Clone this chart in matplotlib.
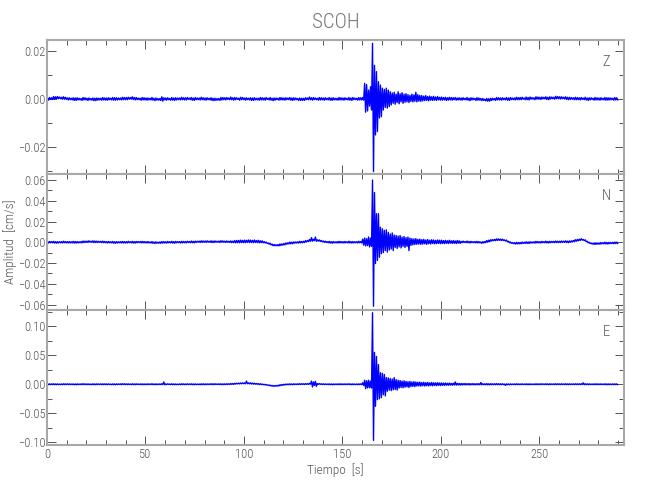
import matplotlib
matplotlib.use("Agg")
import matplotlib.pyplot as plt
import numpy as np
from matplotlib.ticker import MultipleLocator, FuncFormatter

# envelope of each trace per 1 s bin (0..289 s), units of 1e-4 cm/s
# hi = max in the bin, lo = min in the bin
z_hi = [4, 6, 5, 10, 9, 10, 8, 7, 9, 7,
        5, 5, 3, 5, 4, 5, 3, 2, 6, 5,
        3, 4, 2, 4, 3, 4, 3, 3, 6, 4,
        4, 5, 3, 6, 5, 5, 4, 4, 7, 6,
        6, 7, 6, 9, 6, 6, 4, 3, 6, 5,
        4, 4, 3, 6, 3, 4, 2, 2, 9, 5,
        4, 5, 2, 6, 4, 5, 4, 4, 7, 5,
        5, 6, 4, 6, 4, 6, 4, 4, 7, 5,
        4, 5, 3, 5, 3, 3, 2, 2, 6, 6,
        5, 6, 4, 8, 5, 6, 5, 3, 7, 6,
        4, 5, 3, 5, 4, 5, 3, 3, 6, 5,
        4, 6, 3, 6, 3, 4, 4, 3, 6, 5,
        4, 5, 4, 6, 4, 5, 4, 2, 4, 3,
        3, 5, 4, 8, 5, 6, 4, 3, 6, 5,
        4, 5, 3, 6, 4, 5, 3, 3, 6, 5,
        4, 5, 3, 6, 4, 6, 4, 3, 6, 5,
        6, 65, 60, 37, 51, 232, 140, 114, 72, 58,
        45, 40, 45, 37, 30, 25, 28, 20, 30, 22,
        26, 20, 22, 18, 15, 20, 17, 28, 18, 15,
        14, 12, 14, 10, 12, 9, 11, 8, 10, 7,
        8, 6, 7, 5, 7, 6, 5, 6, 4, 5,
        4, 5, 3, 6, 3, 5, 4, 2, 5, 4,
        2, 2, -1, 2, 1, 3, 3, 2, 6, 5,
        4, 5, 3, 6, 4, 6, 4, 4, 7, 6,
        6, 7, 4, 8, 6, 8, 6, 5, 9, 8,
        7, 8, 7, 9, 7, 9, 8, 7, 11, 10,
        9, 9, 7, 9, 7, 7, 6, 5, 7, 6,
        5, 6, 4, 7, 4, 5, 5, 3, 6, 5,
        4, 5, 3, 6, 5, 5, 4, 3, 6, 5]
z_lo = [-5, -2, -2, -1, -1, 1, 1, -1, -1, -2,
        -4, -3, -4, -6, -6, -4, -4, -6, -4, -4,
        -6, -4, -5, -7, -7, -5, -4, -5, -4, -5,
        -5, -3, -4, -5, -5, -4, -3, -4, -3, -3,
        -3, -1, -1, -2, -4, -3, -3, -5, -4, -4,
        -5, -4, -4, -5, -7, -5, -5, -6, -9, -4,
        -5, -3, -5, -5, -6, -4, -3, -4, -3, -4,
        -4, -2, -3, -5, -6, -3, -3, -4, -3, -4,
        -5, -3, -4, -6, -7, -6, -5, -6, -4, -3,
        -4, -2, -3, -3, -5, -3, -2, -5, -3, -3,
        -5, -3, -4, -6, -6, -4, -4, -5, -4, -4,
        -5, -2, -4, -5, -7, -5, -3, -5, -4, -4,
        -5, -3, -3, -5, -6, -4, -3, -6, -6, -6,
        -6, -3, -3, -3, -5, -3, -3, -5, -4, -4,
        -5, -3, -4, -5, -6, -4, -4, -5, -4, -4,
        -5, -3, -4, -5, -6, -3, -3, -5, -4, -4,
        -5, -55, -50, -30, -46, -303, -150, -136, -79, -74,
        -46, -35, -38, -32, -25, -18, -22, -15, -20, -12,
        -18, -14, -12, -15, -10, -12, -10, -12, -9, -10,
        -8, -7, -6, -8, -5, -6, -5, -6, -4, -5,
        -5, -4, -6, -5, -4, -5, -3, -5, -4, -4,
        -5, -3, -4, -5, -7, -4, -3, -6, -5, -5,
        -7, -6, -8, -9, -9, -6, -4, -6, -4, -4,
        -5, -3, -4, -5, -6, -3, -3, -4, -3, -3,
        -3, -1, -3, -3, -4, -1, -1, -3, -1, -1,
        -2, 0, 0, -2, -3, 0, 1, -1, 1, 1,
        0, 1, 0, -2, -3, -2, -1, -3, -3, -3,
        -4, -2, -3, -4, -6, -4, -2, -5, -4, -4,
        -5, -3, -4, -5, -5, -4, -3, -5, -4, -4]

n_hi = [6, 8, 6, 9, 6, 6, 5, 6, 10, 7,
        6, 7, 5, 9, 7, 7, 5, 7, 12, 11,
        11, 14, 10, 14, 12, 11, 9, 9, 11, 8,
        6, 8, 5, 8, 5, 6, 5, 6, 8, 6,
        6, 9, 5, 9, 7, 8, 7, 7, 9, 7,
        6, 7, 3, 7, 3, 4, 1, 3, 7, 6,
        5, 8, 5, 9, 6, 8, 6, 6, 9, 8,
        7, 10, 7, 12, 9, 11, 10, 11, 14, 13,
        12, 14, 10, 14, 12, 13, 10, 11, 15, 13,
        11, 13, 9, 13, 11, 16, 17, 18, 20, 18,
        20, 19, 22, 21, 18, 22, 17, 19, 15, 14,
        6, 2, -7, -9, -18, -21, -24, -22, -16, -15,
        -12, -6, -5, 2, 1, 4, 3, 5, 9, 8,
        10, 16, 17, 27, 45, 29, 50, 24, 23, 17,
        12, 11, 6, 9, 6, 7, 4, 6, 9, 7,
        6, 8, 5, 10, 7, 7, 5, 6, 10, 7,
        30, 40, 35, 51, 40, 600, 480, 275, 275, 145,
        130, 115, 120, 95, 80, 90, 70, 65, 60, 65,
        50, 55, 45, 50, 40, 35, 32, 35, 28, 30,
        25, 28, 22, 26, 20, 24, 22, 18, 22, 20,
        20, 16, 18, 15, 19, 14, 16, 13, 17, 14,
        9, 11, 7, 12, 8, 9, 6, 7, 9, 7,
        3, 6, 7, 17, 20, 25, 25, 28, 33, 32,
        30, 30, 23, 21, 10, 3, -3, -4, -1, -2,
        -2, 2, 0, 5, 3, 5, 3, 5, 9, 7,
        6, 9, 6, 11, 8, 9, 8, 9, 12, 10,
        10, 12, 10, 14, 11, 13, 13, 18, 25, 27,
        30, 34, 27, 23, 10, 1, -7, -8, -5, -6,
        -6, -2, -4, 1, -2, -1, -2, -1, 2, 1]
n_lo = [-7, -5, -5, -8, -9, -7, -5, -7, -5, -6,
        -7, -6, -6, -8, -8, -6, -5, -6, -3, -2,
        -2, 1, -1, -3, -3, -2, -1, -4, -4, -5,
        -7, -5, -6, -9, -10, -7, -5, -7, -7, -7,
        -7, -4, -6, -8, -8, -5, -3, -6, -6, -6,
        -7, -6, -8, -10, -12, -9, -9, -10, -8, -7,
        -8, -5, -6, -8, -9, -5, -4, -7, -6, -5,
        -6, -3, -4, -5, -6, -2, 0, -2, -1, 0,
        -1, 1, -1, -3, -3, 0, 0, -2, 0, 0,
        -2, 0, -2, -4, -4, -5, -4, -5, -3, -4,
        -4, -1, -3, -2, -4, -2, -3, -5, -4, -5,
        -7, -11, -18, -26, -33, -34, -34, -35, -31, -28,
        -25, -19, -16, -15, -14, -9, -7, -8, -6, -5,
        -3, 3, 6, 10, 11, 16, 10, 11, 8, 4,
        -1, -2, -5, -8, -9, -6, -6, -7, -6, -6,
        -7, -5, -6, -7, -8, -6, -5, -7, -5, -6,
        -28, -35, -32, -45, -38, -617, -205, -175, -145, -110,
        -100, -80, -95, -75, -65, -80, -50, -60, -45, -55,
        -40, -50, -40, -80, -30, -25, -22, -20, -18, -20,
        -18, -15, -20, -14, -16, -12, -15, -13, -11, -14,
        -12, -13, -10, -12, -9, -11, -10, -12, -9, -10,
        -4, -2, -4, -5, -7, -4, -4, -6, -6, -6,
        -10, -7, -4, 0, 5, 12, 15, 15, 18, 19,
        17, 17, 12, 4, -5, -10, -13, -17, -16, -15,
        -15, -11, -11, -12, -12, -8, -7, -8, -6, -6,
        -7, -4, -5, -6, -7, -4, -2, -4, -3, -3,
        -3, -1, -1, -3, -4, 0, 3, 5, 10, 14,
        17, 21, 16, 6, -5, -12, -17, -21, -20, -19,
        -19, -15, -15, -16, -17, -14, -12, -14, -13, -12]

e_hi = [6, 7, 6, 9, 6, 7, 4, 6, 8, 8,
        7, 7, 5, 7, 5, 7, 5, 7, 9, 7,
        6, 6, 4, 8, 6, 8, 6, 6, 8, 7,
        6, 7, 4, 7, 6, 7, 6, 7, 10, 8,
        7, 7, 5, 8, 7, 8, 5, 6, 7, 6,
        6, 7, 6, 9, 6, 7, 5, 7, 9, 40,
        7, 8, 5, 8, 6, 6, 4, 6, 8, 7,
        6, 8, 6, 8, 6, 7, 4, 5, 8, 7,
        6, 7, 6, 9, 8, 9, 6, 7, 8, 7,
        7, 9, 8, 13, 13, 17, 17, 20, 23, 23,
        25, 55, 24, 25, 20, 19, 14, 12, 9, 5,
        0, -3, -11, -14, -20, -21, -21, -16, -8, -3,
        0, 4, 4, 8, 6, 8, 6, 8, 10, 10,
        9, 11, 10, 16, 55, 40, 50, 12, 12, 9,
        7, 7, 5, 8, 5, 6, 5, 6, 8, 7,
        6, 7, 6, 9, 6, 7, 5, 5, 8, 7,
        25, 70, 60, 70, 55, 1235, 550, 480, 340, 200,
        190, 170, 115, 110, 100, 90, 115, 80, 70, 65,
        55, 60, 50, 45, 50, 40, 45, 40, 35, 38,
        30, 35, 28, 32, 25, 30, 27, 24, 28, 22,
        24, 20, 22, 18, 21, 16, 19, 40, 17, 15,
        14, 12, 15, 11, 13, 10, 12, 9, 11, 10,
        30, 10, 8, 11, 9, 10, 8, 9, 11, 9,
        8, 9, 4, 8, 6, 7, 5, 6, 8, 7,
        6, 7, 5, 8, 6, 7, 5, 6, 8, 7,
        7, 8, 6, 9, 7, 8, 6, 7, 9, 8,
        7, 8, 6, 9, 7, 8, 6, 7, 9, 8,
        8, 9, 25, 9, 7, 8, 5, 6, 8, 7,
        6, 7, 5, 8, 6, 7, 5, 6, 8, 7]
e_lo = [-6, -5, -5, -6, -8, -6, -6, -7, -6, -5,
        -5, -5, -6, -8, -9, -6, -5, -6, -5, -6,
        -6, -6, -7, -7, -8, -5, -4, -7, -6, -6,
        -6, -5, -7, -8, -8, -6, -4, -6, -4, -5,
        -5, -5, -6, -7, -7, -5, -5, -7, -7, -7,
        -6, -5, -5, -6, -8, -6, -5, -6, -5, -10,
        -5, -4, -6, -7, -8, -7, -6, -7, -6, -6,
        -6, -4, -5, -7, -8, -6, -6, -8, -6, -6,
        -6, -5, -5, -6, -6, -4, -4, -6, -6, -6,
        -5, -3, -3, -2, -1, 4, 7, 7, 9, 10,
        8, 10, 8, 5, 3, 2, 0, -5, -5, -8,
        -12, -15, -22, -29, -34, -34, -31, -29, -22, -16,
        -12, -8, -7, -7, -8, -5, -4, -5, -4, -3,
        -3, -1, -1, 1, -45, -20, -35, -1, -2, -4,
        -5, -5, -6, -7, -9, -7, -5, -7, -6, -6,
        -6, -5, -5, -6, -8, -6, -5, -8, -6, -6,
        -20, -75, -63, -60, -65, -968, -380, -265, -250, -230,
        -180, -200, -120, -100, -110, -95, -90, -100, -65, -55,
        -60, -50, -45, -55, -40, -35, -40, -30, -28, -32,
        -25, -30, -24, -28, -22, -26, -20, -24, -18, -22,
        -18, -20, -15, -17, -14, -16, -13, -15, -12, -14,
        -12, -10, -11, -9, -12, -8, -10, -9, -8, -9,
        -8, -7, -8, -9, -10, -7, -6, -8, -7, -7,
        -7, -6, -20, -8, -9, -6, -5, -7, -6, -6,
        -6, -5, -6, -7, -8, -6, -5, -7, -6, -6,
        -5, -4, -5, -6, -7, -5, -4, -6, -5, -5,
        -5, -4, -5, -6, -7, -5, -4, -6, -5, -5,
        -5, -4, -8, -6, -7, -6, -5, -7, -6, -6,
        -6, -5, -6, -7, -8, -6, -5, -7, -6, -6]

components = ["Z", "N", "E"]
ylims = [(-0.0313, 0.0246), (-0.0648, 0.0658), (-0.1047, 0.129)]
ymajor = [0.02, 0.02, 0.05]
yminor = [0.01, 0.01, 0.025]

plt.rcParams['font.family'] = ['Roboto Condensed', 'DejaVu Sans']
plt.rcParams['font.weight'] = 'light'
gray_axis = '#a8a8a8'
gray_text = '#555555'


def trace(hi, lo):
    # max then min inside every 1 s bin, drawn as one zigzag line
    hi = np.asarray(hi) * 1e-4
    lo = np.asarray(lo) * 1e-4
    t = np.arange(len(hi))
    x = np.column_stack([t + 0.3, t + 0.8]).ravel()
    y = np.column_stack([hi, lo]).ravel()
    return x, y


def fmt(v, pos):
    s = '%.2f' % v
    if s == '-0.00':
        s = '0.00'
    return s.replace('-', '\u2212')


fig = plt.figure(figsize=(6.5, 5), dpi=100)
tops = [40, 174, 309.5]
bottoms = [174, 309.5, 445]
data = [(z_hi, z_lo), (n_hi, n_lo), (e_hi, e_lo)]

for i, comp in enumerate(components):
    ax = fig.add_axes([47 / 650, 1 - bottoms[i] / 500, 577 / 650,
                       (bottoms[i] - tops[i]) / 500])
    x, y = trace(*data[i])
    ax.plot(x, y, color='#0000ff', lw=1.0)
    ax.set_xlim(0, 293)
    ax.set_ylim(*ylims[i])
    ax.xaxis.set_major_locator(MultipleLocator(50))
    ax.xaxis.set_minor_locator(MultipleLocator(10))
    ax.yaxis.set_major_locator(MultipleLocator(ymajor[i]))
    ax.yaxis.set_minor_locator(MultipleLocator(yminor[i]))
    ax.yaxis.set_major_formatter(FuncFormatter(fmt))
    ax.tick_params(which='both', direction='in', top=True, right=True,
                   color=gray_text, width=0.7, labelcolor=gray_text,
                   labelsize=9)
    ax.tick_params(which='major', length=6.5)
    ax.tick_params(which='minor', length=3.5)
    ax.tick_params(axis='y', pad=1)
    ax.tick_params(axis='x', pad=2)
    for sp in ax.spines.values():
        sp.set_color(gray_axis)
        sp.set_linewidth(1.5)
    if i < 2:
        ax.tick_params(labelbottom=False)
    ax.text(0.969, 0.835, comp, transform=ax.transAxes, ha='center',
            va='center', fontsize=10.5, color=gray_text)

fig.text(0.516, 0.956, 'SCOH', ha='center', va='center', fontsize=15,
         color='#777777')
fig.text(0.516, 0.06, 'Tiempo  [s]', ha='center', va='center', fontsize=9.5,
         color=gray_text)
fig.text(0.016, 0.5165, 'Amplitud  [cm/s]', ha='center', va='center',
         rotation=90, fontsize=9.5, color=gray_text)

fig.savefig('out.png', dpi=100)
